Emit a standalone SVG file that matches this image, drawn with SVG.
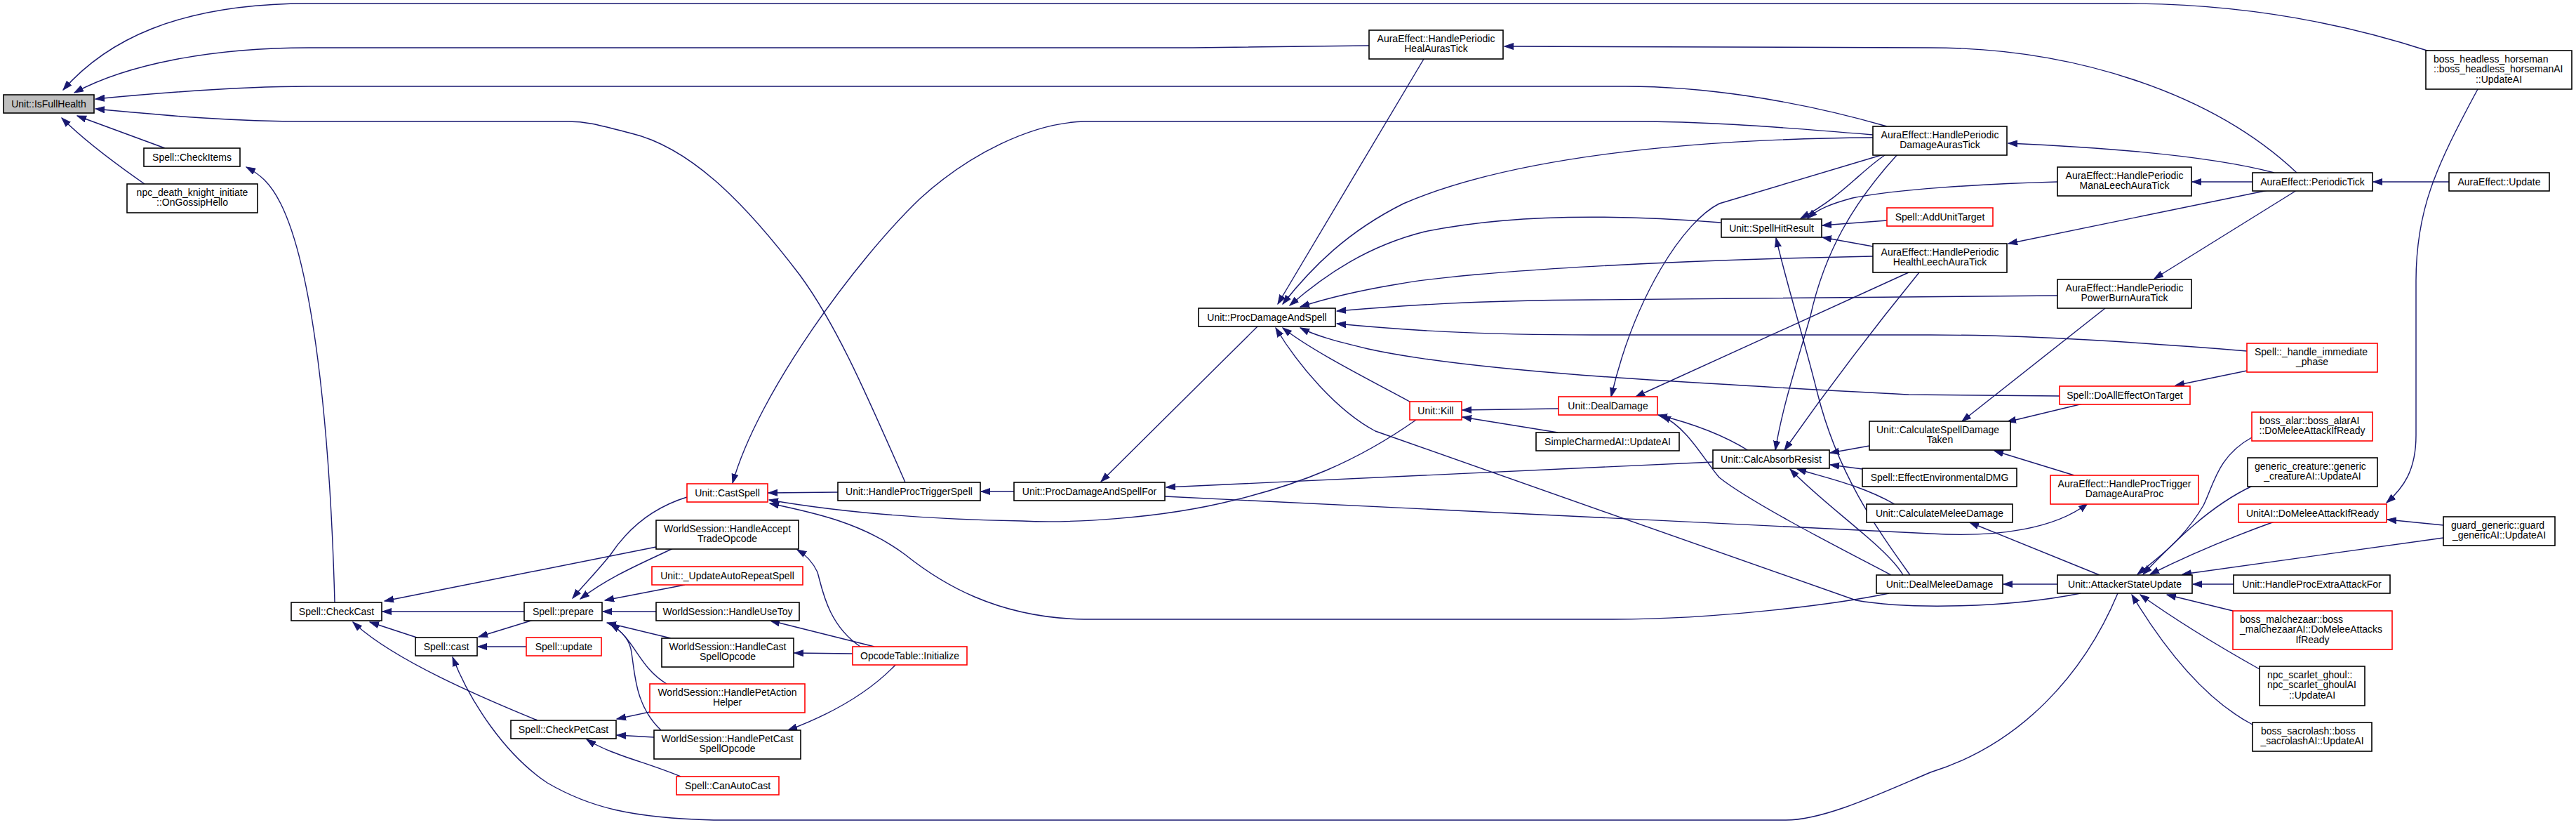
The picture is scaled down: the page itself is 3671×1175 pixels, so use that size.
<svg xmlns="http://www.w3.org/2000/svg" width="3671" height="1175" viewBox="0 0 3671 1175">
<style>
.n rect{fill:#fff;stroke:#000;stroke-width:1.6}
.n.r rect{stroke:#ff0000}
.n.root rect{fill:#bfbfbf}
text{font-family:"Liberation Sans",Arial,Helvetica,sans-serif;font-size:14px;fill:#000}
.m{text-anchor:middle}
.c path{fill:none;stroke:#191970;stroke-width:1.4;marker-end:url(#a)}
</style>
<defs>
<marker id="a" markerUnits="userSpaceOnUse" markerWidth="14" markerHeight="11" refX="13" refY="5" orient="auto">
<path d="M0,0.5 L13,5 L0,9.5 z" fill="#191970" stroke="#191970" stroke-width="1"/>
</marker>
</defs>
<rect width="3671" height="1175" fill="#fff"/>
<g class="c" id="connectors">
<path d="M3462,73 C3300,20 3150,5 3030,5 L440,5 C250,5 150,60 90,128"/>
<path d="M1951,65 L1700,68 L440,68 C300,68 180,92 106,132"/>
<path d="M2689,180 C2550,140 2420,123 2316,123 L440,123 C340,123 230,132 136,141"/>
<path d="M1290,687 C1230,550 1190,460 1140,392 C1070,300 990,212 900,190 C860,180 840,173 810,173 L440,173 C330,173 240,165 136,155"/>
<path d="M235,211 L110,165"/>
<path d="M206,262 C160,230 120,200 88,168"/>
<path d="M477,858 C470,600 445,380 400,290 C385,260 370,248 351,238"/>
<path d="M747,871 L545,871"/>
<path d="M594,908 L527,886"/>
<path d="M766,1026 C690,995 560,940 503,886"/>
<path d="M935,779 L548,856"/>
<path d="M979,708 C940,720 900,745 870,790 C850,815 830,835 816,852"/>
<path d="M959,781 C920,800 870,820 827,853"/>
<path d="M976,833 L862,855"/>
<path d="M935,871 L859,871"/>
<path d="M956,909 L865,887"/>
<path d="M950,974 C910,950 905,910 870,889"/>
<path d="M942,1040 C905,1005 905,960 900,930 C898,910 885,898 870,889"/>
<path d="M760,883 L682,907"/>
<path d="M750,921 L681,921"/>
<path d="M3018,845 C2970,960 2880,1060 2751,1100 C2680,1130 2600,1168 2545,1168 L1017,1168 C900,1165 840,1150 780,1115 C720,1075 670,1000 645,936"/>
<path d="M926,1014 L879,1024"/>
<path d="M932,1050 L879,1047"/>
<path d="M970,1106 C920,1085 870,1075 836,1053"/>
<path d="M1226,921 C1180,890 1172,840 1165,815 C1158,800 1148,790 1136,783"/>
<path d="M1246,921 L1098,884"/>
<path d="M1215,931 L1132,930"/>
<path d="M1277,946 C1240,985 1190,1015 1123,1040"/>
<path d="M1194,701 L1095,702"/>
<path d="M1445,700 L1398,700"/>
<path d="M1792,465 L1569,686"/>
<path d="M2018,598 C1930,660 1850,690 1760,712 C1650,740 1520,745 1457,742 C1330,740 1200,730 1096,712"/>
<path d="M2692,845 C2620,860 2450,882 2299,882 L1545,882 C1420,880 1340,830 1290,790 C1230,745 1160,730 1097,717"/>
<path d="M2441,658 L1662,694"/>
<path d="M1660,707 L2751,760 C2850,766 2930,752 2975,717"/>
<path d="M2029,84 L1821,433"/>
<path d="M2669,196 C2400,198 2150,225 2000,290 C1920,330 1870,380 1828,433"/>
<path d="M2452,317 C2300,305 2150,305 2030,330 C1950,350 1890,390 1838,435"/>
<path d="M2669,365 C2400,370 2100,385 1990,405 C1930,415 1890,425 1853,437"/>
<path d="M2932,421 L2269,427 C2100,428 2000,435 1905,443"/>
<path d="M3202,500 C3050,488 2900,477 2751,477 L2269,477 C2100,477 2000,470 1905,461"/>
<path d="M2935,564 L2720,562 C2400,545 2100,530 1950,497 C1900,485 1875,478 1853,467"/>
<path d="M2009,572 C1950,540 1870,500 1828,467"/>
<path d="M2965,845 C2860,866 2720,868 2645,855 L1960,614 C1905,585 1850,520 1818,467"/>
<path d="M2669,192 C2500,178 2420,173 2328,173 L1545,173 C1470,175 1380,220 1311,283 C1220,370 1080,560 1044,688"/>
<path d="M3273,246 C3150,130 2950,68 2751,68 L2144,66"/>
<path d="M3241,246 C3150,222 3000,210 2862,204"/>
<path d="M3210,259 L3124,259"/>
<path d="M3232,271 L2862,347"/>
<path d="M3273,271 L3070,397"/>
<path d="M3490,259 L3382,259"/>
<path d="M3531,127 C3470,240 3443,300 3443,400 L3443,620 C3443,670 3425,695 3401,716"/>
<path d="M3482,748 L3402,740"/>
<path d="M3482,766 L3110,818"/>
<path d="M3241,743 C3180,765 3120,790 3064,818"/>
<path d="M3210,692 C3150,720 3100,770 3054,818"/>
<path d="M3209,623 C3160,650 3155,690 3140,720 C3110,770 3075,795 3046,818"/>
<path d="M3183,832 L3125,832"/>
<path d="M3182,870 L3088,847"/>
<path d="M3220,953 C3170,925 3110,890 3050,847"/>
<path d="M3210,1032 C3130,990 3070,900 3038,847"/>
<path d="M2932,832 L2855,832"/>
<path d="M2992,819 L2807,744"/>
<path d="M2956,677 L2842,642"/>
<path d="M2968,575 L2860,601"/>
<path d="M3000,439 L2796,600"/>
<path d="M3202,528 L3100,549"/>
<path d="M2664,635 L2608,645"/>
<path d="M2654,668 L2608,662"/>
<path d="M2700,718 C2650,690 2600,680 2561,668"/>
<path d="M2712,819 C2690,780 2600,720 2551,668"/>
<path d="M2722,819 C2680,760 2620,680 2590,560 C2570,480 2545,400 2531,339"/>
<path d="M2686,221 C2650,245 2625,280 2566,311"/>
<path d="M2932,259 C2820,262 2700,270 2640,282 C2610,290 2590,298 2576,311"/>
<path d="M2689,314 L2597,321"/>
<path d="M2669,351 L2597,338"/>
<path d="M2684,220 L2450,290 C2400,315 2330,420 2296,565"/>
<path d="M2720,388 L2331,565"/>
<path d="M2735,388 C2660,480 2600,560 2543,641"/>
<path d="M2704,220 C2640,290 2600,360 2580,450 C2560,520 2540,580 2530,641"/>
<path d="M2492,642 C2460,622 2420,605 2363,591"/>
<path d="M2695,819 C2660,800 2500,720 2450,680 C2425,650 2405,610 2368,592"/>
<path d="M2221,582 L2084,584"/>
<path d="M2220,616 L2084,594"/>
</g>
<g id="n_IsFullHealth" class="n root"><rect x="5" y="135" width="129" height="26"/><text class="m" x="69.5" y="152.5">Unit::IsFullHealth</text></g>
<g id="n_CheckItems" class="n"><rect x="205" y="211" width="137" height="26"/><text class="m" x="273.5" y="228.5">Spell::CheckItems</text></g>
<g id="n_npcDK" class="n"><rect x="181" y="262" width="186" height="41"/><text class="m" x="274" y="278.7">npc_death_knight_initiate</text><text class="m" x="274" y="293.2">::OnGossipHello</text></g>
<g id="n_HealAurasTick" class="n"><rect x="1951" y="43" width="191" height="41"/><text class="m" x="2046.5" y="59.7">AuraEffect::HandlePeriodic</text><text class="m" x="2046.5" y="74.2">HealAurasTick</text></g>
<g id="n_Horseman" class="n"><rect x="3457" y="72" width="208" height="55"/><text x="3468" y="89">boss_headless_horseman</text><text x="3468" y="103.3">::boss_headless_horsemanAI</text><text class="m" x="3561" y="117.6">::UpdateAI</text></g>
<g id="n_DamageAurasTick" class="n"><rect x="2669" y="180" width="191" height="41"/><text class="m" x="2764.5" y="196.7">AuraEffect::HandlePeriodic</text><text class="m" x="2764.5" y="211.2">DamageAurasTick</text></g>
<g id="n_ManaLeech" class="n"><rect x="2932" y="238" width="191" height="41"/><text class="m" x="3027.5" y="254.7">AuraEffect::HandlePeriodic</text><text class="m" x="3027.5" y="269.2">ManaLeechAuraTick</text></g>
<g id="n_PeriodicTick" class="n"><rect x="3210" y="246" width="171" height="26"/><text class="m" x="3295.5" y="263.5">AuraEffect::PeriodicTick</text></g>
<g id="n_AuraUpdate" class="n"><rect x="3490" y="246" width="143" height="26"/><text class="m" x="3561.5" y="263.5">AuraEffect::Update</text></g>
<g id="n_SpellHitResult" class="n"><rect x="2453" y="312" width="143" height="26"/><text class="m" x="2524.5" y="329.5">Unit::SpellHitResult</text></g>
<g id="n_AddUnitTarget" class="n r"><rect x="2689" y="296" width="151" height="26"/><text class="m" x="2764.5" y="313.5">Spell::AddUnitTarget</text></g>
<g id="n_HealthLeech" class="n"><rect x="2669" y="347" width="191" height="41"/><text class="m" x="2764.5" y="363.7">AuraEffect::HandlePeriodic</text><text class="m" x="2764.5" y="378.2">HealthLeechAuraTick</text></g>
<g id="n_PowerBurn" class="n"><rect x="2932" y="398" width="191" height="41"/><text class="m" x="3027.5" y="414.7">AuraEffect::HandlePeriodic</text><text class="m" x="3027.5" y="429.2">PowerBurnAuraTick</text></g>
<g id="n_ProcDamageAndSpell" class="n"><rect x="1708" y="439" width="195" height="26"/><text class="m" x="1805.5" y="456.5">Unit::ProcDamageAndSpell</text></g>
<g id="n_HandleImmediate" class="n r"><rect x="3202" y="489" width="186" height="41"/><text x="3213" y="505.7">Spell::_handle_immediate</text><text class="m" x="3295" y="520.2">_phase</text></g>
<g id="n_DoAllEffect" class="n r"><rect x="2935" y="550" width="186" height="26"/><text class="m" x="3028" y="567.5">Spell::DoAllEffectOnTarget</text></g>
<g id="n_Kill" class="n r"><rect x="2009" y="572" width="74" height="26"/><text class="m" x="2046" y="589.5">Unit::Kill</text></g>
<g id="n_DealDamage" class="n r"><rect x="2221" y="565" width="141" height="26"/><text class="m" x="2291.5" y="582.5">Unit::DealDamage</text></g>
<g id="n_SimpleCharmed" class="n"><rect x="2189" y="616" width="204" height="26"/><text class="m" x="2291" y="633.5">SimpleCharmedAI::UpdateAI</text></g>
<g id="n_CalcAbsorb" class="n"><rect x="2441" y="641" width="166" height="26"/><text class="m" x="2524" y="658.5">Unit::CalcAbsorbResist</text></g>
<g id="n_CalcSpellDmg" class="n"><rect x="2664" y="600" width="201" height="41"/><text x="2674" y="616.7">Unit::CalculateSpellDamage</text><text class="m" x="2764.5" y="631.2">Taken</text></g>
<g id="n_EffectEnv" class="n"><rect x="2654" y="667" width="220" height="26"/><text class="m" x="2764" y="684.5">Spell::EffectEnvironmentalDMG</text></g>
<g id="n_AuraProc" class="n r"><rect x="2922" y="677" width="211" height="41"/><text class="m" x="3027.5" y="693.7">AuraEffect::HandleProcTrigger</text><text class="m" x="3027.5" y="708.2">DamageAuraProc</text></g>
<g id="n_CalcMelee" class="n"><rect x="2660" y="718" width="208" height="26"/><text class="m" x="2764" y="735.5">Unit::CalculateMeleeDamage</text></g>
<g id="n_BossAlar" class="n r"><rect x="3209" y="587" width="172" height="41"/><text x="3220" y="603.7">boss_alar::boss_alarAI</text><text class="m" x="3295" y="618.2">::DoMeleeAttackIfReady</text></g>
<g id="n_Generic" class="n"><rect x="3203" y="652" width="185" height="41"/><text x="3213" y="668.7">generic_creature::generic</text><text class="m" x="3295.5" y="683.2">_creatureAI::UpdateAI</text></g>
<g id="n_UnitAI" class="n r"><rect x="3190" y="718" width="211" height="26"/><text class="m" x="3295.5" y="735.5">UnitAI::DoMeleeAttackIfReady</text></g>
<g id="n_Guard" class="n"><rect x="3482" y="736" width="159" height="41"/><text x="3493" y="752.7">guard_generic::guard</text><text class="m" x="3561.5" y="767.2">_genericAI::UpdateAI</text></g>
<g id="n_DealMelee" class="n"><rect x="2674" y="819" width="180" height="26"/><text class="m" x="2764" y="836.5">Unit::DealMeleeDamage</text></g>
<g id="n_AttackerState" class="n"><rect x="2932" y="819" width="192" height="26"/><text class="m" x="3028" y="836.5">Unit::AttackerStateUpdate</text></g>
<g id="n_ProcExtra" class="n"><rect x="3183" y="819" width="223" height="26"/><text class="m" x="3294.5" y="836.5">Unit::HandleProcExtraAttackFor</text></g>
<g id="n_Malchezaar" class="n r"><rect x="3182" y="870" width="227" height="55"/><text x="3192" y="887">boss_malchezaar::boss</text><text x="3192" y="901.3">_malchezaarAI::DoMeleeAttacks</text><text class="m" x="3295.5" y="915.6">IfReady</text></g>
<g id="n_Ghoul" class="n"><rect x="3220" y="949" width="150" height="56"/><text x="3231" y="966">npc_scarlet_ghoul::</text><text x="3231" y="980.3">npc_scarlet_ghoulAI</text><text class="m" x="3295" y="994.6">::UpdateAI</text></g>
<g id="n_Sacrolash" class="n"><rect x="3210" y="1029" width="170" height="41"/><text x="3222" y="1045.7">boss_sacrolash::boss</text><text class="m" x="3295" y="1060.2">_sacrolashAI::UpdateAI</text></g>
<g id="n_CastSpell" class="n r"><rect x="979" y="689" width="115" height="26"/><text class="m" x="1036.5" y="706.5">Unit::CastSpell</text></g>
<g id="n_HandleProcTriggerSpell" class="n"><rect x="1194" y="687" width="203" height="26"/><text class="m" x="1295.5" y="704.5">Unit::HandleProcTriggerSpell</text></g>
<g id="n_ProcDamageAndSpellFor" class="n"><rect x="1445" y="687" width="215" height="26"/><text class="m" x="1552.5" y="704.5">Unit::ProcDamageAndSpellFor</text></g>
<g id="n_HandleAccept" class="n"><rect x="935" y="741" width="203" height="41"/><text class="m" x="1036.5" y="757.7">WorldSession::HandleAccept</text><text class="m" x="1036.5" y="772.2">TradeOpcode</text></g>
<g id="n_CheckCast" class="n"><rect x="415" y="858" width="129" height="26"/><text class="m" x="479.5" y="875.5">Spell::CheckCast</text></g>
<g id="n_Prepare" class="n"><rect x="747" y="858" width="111" height="26"/><text class="m" x="802.5" y="875.5">Spell::prepare</text></g>
<g id="n_Cast" class="n"><rect x="592" y="908" width="88" height="26"/><text class="m" x="636" y="925.5">Spell::cast</text></g>
<g id="n_SpellUpdate" class="n r"><rect x="750" y="908" width="107" height="26"/><text class="m" x="803.5" y="925.5">Spell::update</text></g>
<g id="n_CheckPetCast" class="n"><rect x="728" y="1026" width="150" height="26"/><text class="m" x="803" y="1043.5">Spell::CheckPetCast</text></g>
<g id="n_UpdateAutoRepeat" class="n r"><rect x="929" y="807" width="215" height="26"/><text class="m" x="1036.5" y="824.5">Unit::_UpdateAutoRepeatSpell</text></g>
<g id="n_HandleUseToy" class="n"><rect x="935" y="858" width="204" height="26"/><text class="m" x="1037" y="875.5">WorldSession::HandleUseToy</text></g>
<g id="n_HandleCastSpell" class="n"><rect x="943" y="909" width="188" height="41"/><text class="m" x="1037" y="925.7">WorldSession::HandleCast</text><text class="m" x="1037" y="940.2">SpellOpcode</text></g>
<g id="n_OpcodeTable" class="n r"><rect x="1215" y="921" width="163" height="26"/><text class="m" x="1296.5" y="938.5">OpcodeTable::Initialize</text></g>
<g id="n_HandlePetAction" class="n r"><rect x="926" y="974" width="221" height="41"/><text class="m" x="1036.5" y="990.7">WorldSession::HandlePetAction</text><text class="m" x="1036.5" y="1005.2">Helper</text></g>
<g id="n_HandlePetCast" class="n"><rect x="932" y="1040" width="209" height="41"/><text class="m" x="1036.5" y="1056.7">WorldSession::HandlePetCast</text><text class="m" x="1036.5" y="1071.2">SpellOpcode</text></g>
<g id="n_CanAutoCast" class="n r"><rect x="964" y="1106" width="146" height="26"/><text class="m" x="1037" y="1123.5">Spell::CanAutoCast</text></g>
</svg>
